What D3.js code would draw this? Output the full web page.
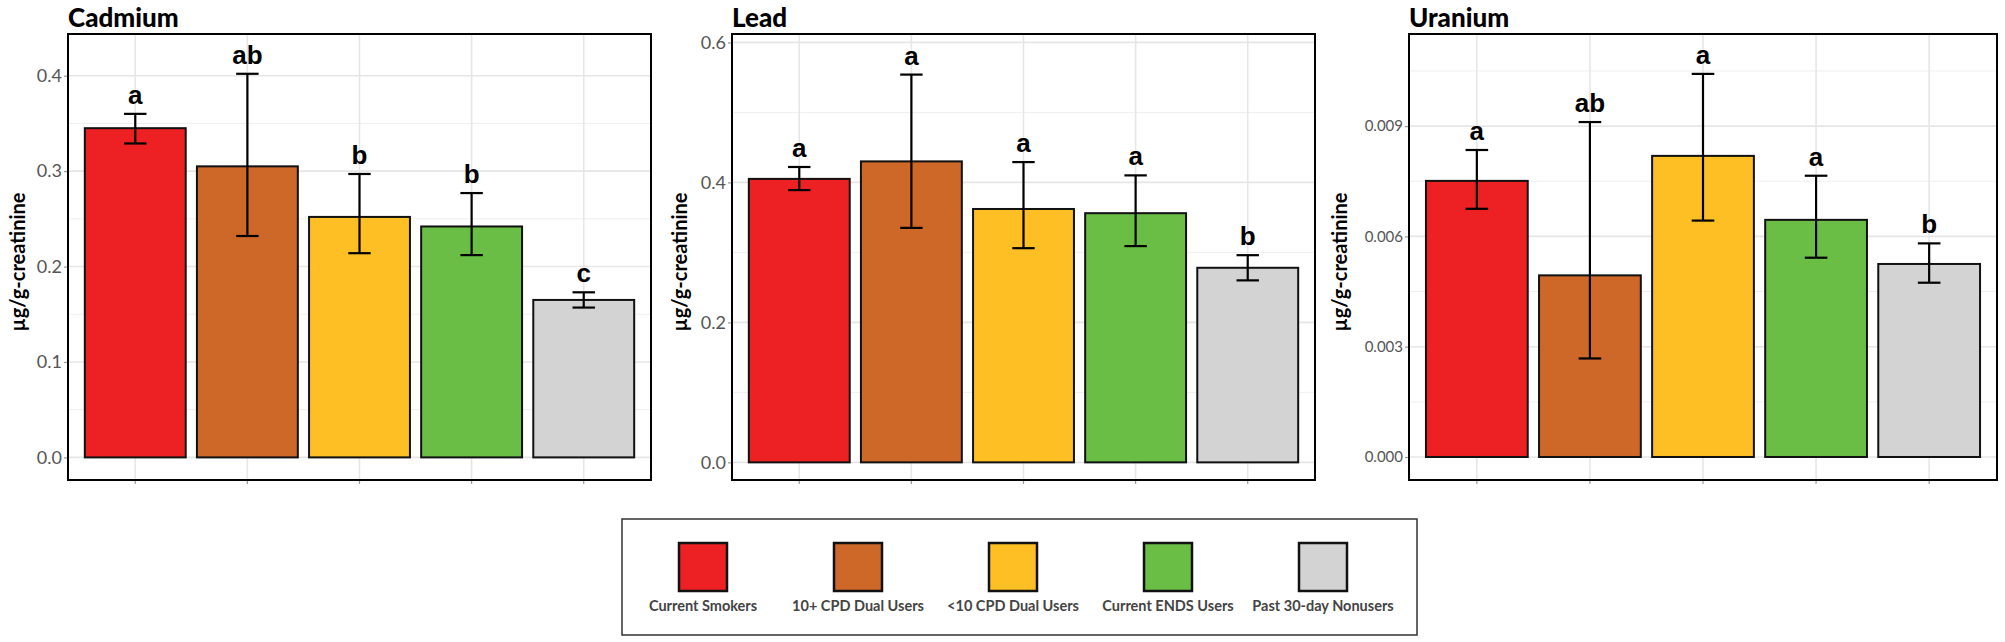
<!DOCTYPE html>
<html>
<head>
<meta charset="utf-8">
<script src="https://cdn.jsdelivr.net/npm/d3@7"></script>
<style>
  body { margin: 0; background: #fff; }
  svg { display: block; }
</style>
</head>
<body>
<div id="chart"></div>
<script>
const groups = ["Current Smokers", "10+ CPD Dual Users", "<10 CPD Dual Users", "Current ENDS Users", "Past 30-day Nonusers"];
const colors = ["#ed2024", "#cd6828", "#fdbf24", "#6abd45", "#d3d3d3"];

const cadmiumMean = [0.345, 0.305, 0.252, 0.242, 0.165];
const cadmiumLow = [0.329, 0.232, 0.214, 0.212, 0.157];
const cadmiumHigh = [0.360, 0.402, 0.297, 0.277, 0.173];
const cadmiumLetters = ["a", "ab", "b", "b", "c"];
const cadmiumTicks = [0, 0.1, 0.2, 0.3, 0.4];

const leadMean = [0.405, 0.430, 0.362, 0.356, 0.278];
const leadLow = [0.389, 0.335, 0.306, 0.309, 0.260];
const leadHigh = [0.422, 0.554, 0.429, 0.410, 0.296];
const leadLetters = ["a", "a", "a", "a", "b"];
const leadTicks = [0, 0.2, 0.4, 0.6];

const uraniumMean = [0.00751, 0.00494, 0.00819, 0.00645, 0.00525];
const uraniumLow = [0.00675, 0.00268, 0.00643, 0.00542, 0.00474];
const uraniumHigh = [0.00835, 0.00911, 0.01042, 0.00765, 0.00581];
const uraniumLetters = ["a", "ab", "a", "a", "b"];
const uraniumTicks = [0, 0.003, 0.006, 0.009];

const width = 2005;
const height = 642;
const plotTop = 34, plotBottom = 480;

const panels = [
  { title: "Cadmium", left: 68, right: 651, mean: cadmiumMean, low: cadmiumLow, high: cadmiumHigh,
    letters: cadmiumLetters, ticks: cadmiumTicks, domain: [-0.0237, 0.4437], fmt: d3.format(".1f"), tickFont: 18, yTitleX: 25 },
  { title: "Lead", left: 732, right: 1315, mean: leadMean, low: leadLow, high: leadHigh,
    letters: leadLetters, ticks: leadTicks, domain: [-0.0252, 0.612], fmt: d3.format(".1f"), tickFont: 18, yTitleX: 687 },
  { title: "Uranium", left: 1409, right: 1997, mean: uraniumMean, low: uraniumLow, high: uraniumHigh,
    letters: uraniumLetters, ticks: uraniumTicks, domain: [-0.000626, 0.011505], fmt: d3.format(".3f"), tickFont: 15, yTitleX: 1347 }
];

const svg = d3.select("#chart").append("svg")
  .attr("width", width)
  .attr("height", height);

panels.forEach((p) => {
  const g = svg.append("g");

  const x = d3.scaleBand()
    .domain(groups)
    .range([p.left, p.right])
    .paddingInner(0.1)
    .paddingOuter(0.15);

  const y = d3.scaleLinear()
    .domain(p.domain)
    .range([plotBottom, plotTop]);

  const mid = (d) => x(d) + x.bandwidth() / 2;

  const minor = d3.pairs(p.ticks).map(([a, b]) => (a + b) / 2);
  minor.push(p.ticks[p.ticks.length - 1] + (p.ticks[1] - p.ticks[0]) / 2);

  // grid
  g.selectAll(".minor").data(minor.filter((v) => y(v) > plotTop)).enter().append("line")
    .attr("x1", p.left).attr("x2", p.right)
    .attr("y1", (d) => y(d)).attr("y2", (d) => y(d))
    .attr("stroke", "#efefef").attr("stroke-width", 1);
  g.selectAll(".major").data(p.ticks).enter().append("line")
    .attr("x1", p.left).attr("x2", p.right)
    .attr("y1", (d) => y(d)).attr("y2", (d) => y(d))
    .attr("stroke", "#e6e6e6").attr("stroke-width", 1.6);
  g.selectAll(".vgrid").data(groups).enter().append("line")
    .attr("x1", mid).attr("x2", mid)
    .attr("y1", plotTop).attr("y2", plotBottom)
    .attr("stroke", "#e6e6e6").attr("stroke-width", 1.6);

  // bars
  g.selectAll(".bar").data(groups).enter().append("rect")
    .attr("x", (d) => x(d))
    .attr("y", (d, i) => y(p.mean[i]))
    .attr("width", x.bandwidth())
    .attr("height", (d, i) => y(0) - y(p.mean[i]))
    .attr("fill", (d, i) => colors[i])
    .attr("stroke", "#111")
    .attr("stroke-width", 2);

  // error bars
  const cap = x.step() * 0.1;
  const eb = g.selectAll(".err").data(groups).enter().append("g")
    .attr("stroke", "#000").attr("stroke-width", 2.2);
  eb.append("line")
    .attr("x1", mid).attr("x2", mid)
    .attr("y1", (d, i) => y(p.low[i])).attr("y2", (d, i) => y(p.high[i]));
  eb.append("line")
    .attr("x1", (d) => mid(d) - cap).attr("x2", (d) => mid(d) + cap)
    .attr("y1", (d, i) => y(p.high[i])).attr("y2", (d, i) => y(p.high[i]));
  eb.append("line")
    .attr("x1", (d) => mid(d) - cap).attr("x2", (d) => mid(d) + cap)
    .attr("y1", (d, i) => y(p.low[i])).attr("y2", (d, i) => y(p.low[i]));

  // letters
  g.selectAll(".letter").data(groups).enter().append("text")
    .attr("x", mid)
    .attr("y", (d, i) => y(p.high[i]) - 10)
    .attr("text-anchor", "middle")
    .style("font-family", "'Liberation Sans', Arial, sans-serif")
    .style("font-weight", "bold")
    .style("font-size", "26px")
    .attr("fill", "#000")
    .text((d, i) => p.letters[i]);

  // axes
  const gY = g.append("g").attr("transform", `translate(${p.left},0)`)
    .call(d3.axisLeft(y).tickValues(p.ticks).tickFormat(p.fmt).tickSize(4).tickPadding(2));
  gY.select(".domain").remove();
  gY.selectAll("line").attr("stroke", "#999").attr("stroke-width", 1.2);
  gY.selectAll("text")
    .attr("fill", "#555")
    .style("font-family", "Lato, sans-serif")
    .style("font-size", p.tickFont + "px");

  const gX = g.append("g").attr("transform", `translate(0,${plotBottom})`)
    .call(d3.axisBottom(x).tickSize(4).tickFormat(""));
  gX.select(".domain").remove();
  gX.selectAll("line").attr("stroke", "#999").attr("stroke-width", 1.2);

  // border
  g.append("rect")
    .attr("x", p.left).attr("y", plotTop)
    .attr("width", p.right - p.left).attr("height", plotBottom - plotTop)
    .attr("fill", "none").attr("stroke", "#000").attr("stroke-width", 2);

  // title
  g.append("text")
    .attr("x", p.left).attr("y", 27)
    .style("font-family", "Lato, sans-serif")
    .style("font-weight", "900")
    .style("font-size", "26px")
    .text(p.title);

  // y title
  g.append("text")
    .attr("transform", `translate(${p.yTitleX},262) rotate(-90)`)
    .attr("text-anchor", "middle")
    .style("font-family", "Lato, sans-serif")
    .style("font-weight", "bold")
    .style("font-size", "20px")
    .text("µg/g-creatinine");
});

// legend
const legend = svg.append("g");
legend.append("rect")
  .attr("x", 622).attr("y", 519)
  .attr("width", 1417 - 622).attr("height", 635 - 519)
  .attr("fill", "#fff").attr("stroke", "#333").attr("stroke-width", 1.5);

const lx = d3.scalePoint().domain(groups).range([703, 1323]);
legend.selectAll(".key").data(groups).enter().append("rect")
  .attr("x", (d) => lx(d) - 24).attr("y", 543)
  .attr("width", 48).attr("height", 48)
  .attr("fill", (d, i) => colors[i])
  .attr("stroke", "#111").attr("stroke-width", 2.5);
legend.selectAll(".lab").data(groups).enter().append("text")
  .attr("x", (d) => lx(d)).attr("y", 611)
  .attr("text-anchor", "middle")
  .attr("fill", "#444")
  .style("font-family", "Lato, sans-serif")
  .style("font-weight", "bold")
  .style("font-size", "14.5px")
  .text((d) => d);
</script>
</body>
</html>
